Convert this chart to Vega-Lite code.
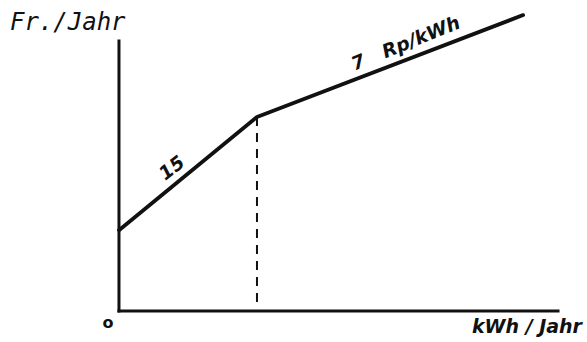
{
  "$schema": "https://vega.github.io/schema/vega-lite/v6.json",
  "width": 587,
  "height": 342,
  "autosize": {"type": "fit", "contains": "padding"},
  "padding": 0,
  "background": "white",
  "config": {"view": {"stroke": null}},
  "datasets": {
    "tarif": [
      {"kWh": 0, "Fr": 150},
      {"kWh": 1400, "Fr": 360},
      {"kWh": 4100, "Fr": 549}
    ],
    "achsen": [
      {"kWh": 0, "Fr": 0, "kWh2": 0, "Fr2": 501},
      {"kWh": 0, "Fr": 0, "kWh2": 4454, "Fr2": 0}
    ],
    "knick": [
      {"kWh": 1400, "Fr": 360, "kWh2": 1400, "Fr2": 8}
    ],
    "beschriftung": [
      {"kWh": -1106, "Fr": 521, "text": "Fr./Jahr", "art": "achse_y"},
      {"kWh": 4697, "Fr": -41, "text": "kWh / Jahr", "art": "achse_x"},
      {"kWh": -112, "Fr": -22, "text": "o", "art": "null"}
    ]
  },
  "encoding": {
    "x": {"field": "kWh", "type": "quantitative", "axis": null,
          "scale": {"domain": [-1207, 4748], "nice": false, "zero": false}},
    "y": {"field": "Fr", "type": "quantitative", "axis": null,
          "scale": {"domain": [-57.5, 577], "nice": false, "zero": false}}
  },
  "layer": [
    {
      "data": {"name": "achsen"},
      "mark": {"type": "rule", "color": "#111", "strokeWidth": 3, "strokeCap": "square"},
      "encoding": {"x2": {"field": "kWh2"}, "y2": {"field": "Fr2"}}
    },
    {
      "data": {"name": "knick"},
      "mark": {"type": "rule", "color": "#111", "strokeWidth": 2, "strokeDash": [9, 7]},
      "encoding": {"x2": {"field": "kWh2"}, "y2": {"field": "Fr2"}}
    },
    {
      "data": {"name": "tarif"},
      "mark": {"type": "line", "color": "#111", "strokeWidth": 3.8, "strokeCap": "round", "strokeJoin": "round"},
      "encoding": {}
    },
    {
      "data": {"name": "beschriftung"},
      "transform": [{"filter": "datum.art === 'achse_y'"}],
      "mark": {"type": "text", "font": "DejaVu Sans Mono", "fontStyle": "italic", "fontSize": 24, "align": "left", "baseline": "alphabetic", "color": "#111"},
      "encoding": {"text": {"field": "text"}}
    },
    {
      "data": {"name": "beschriftung"},
      "transform": [{"filter": "datum.art === 'achse_x'"}],
      "mark": {"type": "text", "font": "DejaVu Sans", "fontStyle": "italic", "fontWeight": "bold", "fontSize": 19, "align": "right", "baseline": "alphabetic", "color": "#111"},
      "encoding": {"text": {"field": "text"}}
    },
    {
      "data": {"name": "beschriftung"},
      "transform": [{"filter": "datum.art === 'null'"}],
      "mark": {"type": "text", "font": "DejaVu Sans", "fontWeight": "bold", "fontSize": 16, "align": "center", "baseline": "middle", "color": "#111"},
      "encoding": {"text": {"field": "text"}}
    },
    {
      "data": {"values": [
        {"kWh": 538, "Fr": 265, "satz": "15"},
        {"kWh": 2910, "Fr": 496, "satz": "7\u00a0\u00a0\u00a0Rp/kWh"}
      ]},
      "mark": {"type": "text", "font": "DejaVu Sans", "fontStyle": "italic", "fontWeight": "bold", "fontSize": 19, "align": "center", "baseline": "middle", "color": "#111"},
      "encoding": {
        "text": {"field": "satz"},
        "angle": {"condition": {"test": "datum.satz === '15'", "value": 322}, "value": 338}
      }
    }
  ]
}
